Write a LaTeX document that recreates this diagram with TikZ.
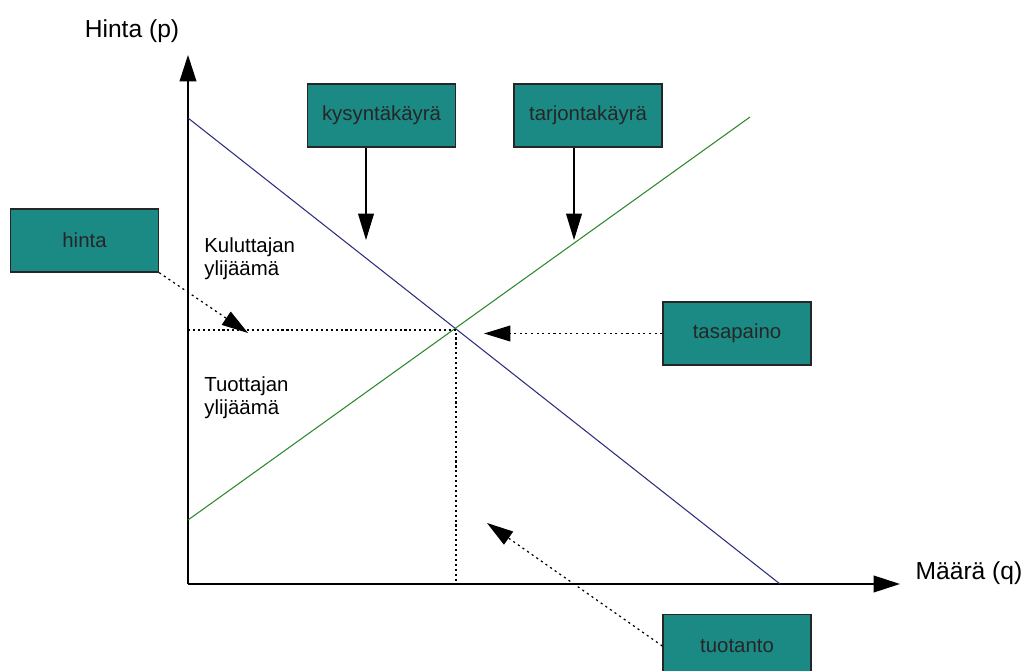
\documentclass[tikz,border=0pt]{standalone}
\usepackage{fontspec}
\setmainfont{Liberation Sans}
\usetikzlibrary{arrows.meta}
\definecolor{boxteal}{RGB}{27,137,132}
\definecolor{demandblue}{RGB}{45,45,125}
\definecolor{supplygreen}{RGB}{45,135,45}
\tikzset{x=0.02cm, y=-0.02cm,
    label box/.style={draw=black!85, line width=0.8pt, fill=boxteal,
        minimum width=2.96cm, minimum height=1.26cm, inner sep=0pt,
        font=\fontsize{11.6}{13}\selectfont, text=black!85},
    axis/.style={line width=0.9pt, -{Triangle[length=15pt,width=9.5pt]}},
    pointer/.style={line width=0.7pt, -{Triangle[length=15pt,width=9pt]}},
    dotpointer/.style={pointer, dash pattern=on 1.2pt off 2pt},
    guide/.style={line width=0.6pt, dash pattern=on 1.2pt off 1.6pt},
    area text/.style={align=left, anchor=north west, inner sep=0pt,
        font=\fontsize{11.6}{13.2}\selectfont},
    axis label/.style={font=\fontsize{14}{16}\selectfont}}

\begin{document}
\begin{tikzpicture}
    \clip (0,0) rectangle (1026,671);
    \useasboundingbox (0,0) rectangle (1026,671);
    % axes
    \coordinate (O) at (188,584);
    \coordinate (ytop) at (188,55);
    \coordinate (xend) at (900,584);
    \draw[axis] (O) -- (ytop);
    \draw[axis] (O) -- (xend);
    \node[axis label] (ylabel) at (132,31) {Hinta (p)};
    \node[axis label] (xlabel) at (969,573) {Määrä (q)};
    % curves
    \coordinate (d1) at (188,118);
    \coordinate (d2) at (780,584);
    \coordinate (s1) at (188,520);
    \coordinate (s2) at (750,117);
    \draw[demandblue, line width=0.6pt] (d1) -- (d2);
    \draw[supplygreen, line width=0.6pt] (s1) -- (s2);
    \coordinate (eq) at (456,330);
    \draw[guide] (O |- eq) -- (eq) -- (O -| eq);
    \node[area text] (kuluttaja) at (204,237) {Kuluttajan\\ylijäämä};
    \node[area text] (tuottaja) at (204,376) {Tuottajan\\ylijäämä};
    % boxes
    \node[label box] (kysynta) at (381.5,115.5) {kysyntäkäyrä};
    \node[label box] (tarjonta) at (588,115.5) {tarjontakäyrä};
    \node[label box] (hinta) at (84.5,240.5) {hinta};
    \node[label box] (tasapaino) at (737,333.5) {tasapaino};
    \node[label box] (tuotanto) at (737,646) {tuotanto};
    % pointers
    \coordinate (kysTip) at (366,240);
    \coordinate (tarTip) at (574,240);
    \coordinate (hintaTip) at (248,333);
    \coordinate (tasTip) at (484,333);
    \coordinate (tuoTip) at (487,523);
    \draw[pointer] (kysynta.south -| kysTip) -- (kysTip);
    \draw[pointer] (tarjonta.south -| tarTip) -- (tarTip);
    \draw[dotpointer] (hinta.south east) -- (hintaTip);
    \draw[dotpointer] (tasapaino.west) -- (tasapaino.west -| tasTip);
    \draw[dotpointer] (tuotanto.west) -- (tuoTip);
\end{tikzpicture}
\end{document}
